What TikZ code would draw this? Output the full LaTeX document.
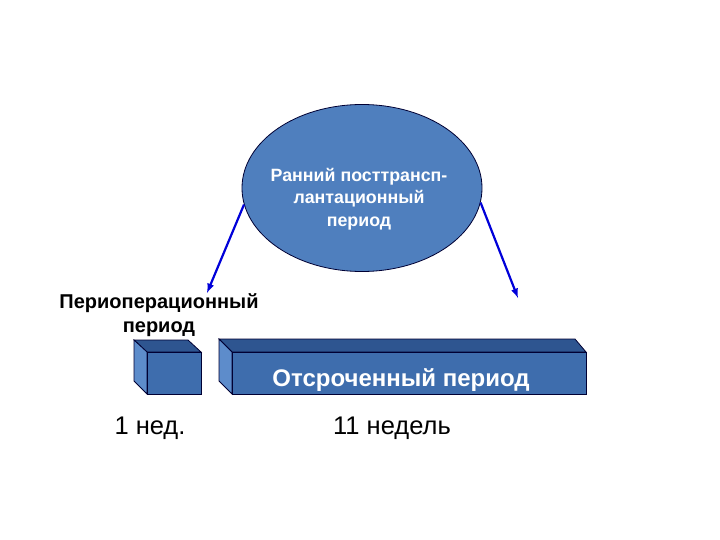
\documentclass[tikz,border=0pt]{standalone}
\usepackage{fontspec}
\setmainfont{Liberation Sans}
\usetikzlibrary{shapes.geometric}
\begin{document}
\begin{tikzpicture}[x=1pt,y=-1pt,
 front/.style={fill=frontc,draw=black!80!blue,line width=0.8pt},
 topf/.style={fill=topc,draw=black!80!blue,line width=0.8pt},
 sidef/.style={fill=sidec,draw=black!80!blue,line width=0.8pt},
 arr/.style={draw=blue!85!black,line width=2.2pt,-latex}]
\definecolor{frontc}{HTML}{3E6DAD}
\definecolor{topc}{HTML}{2E5590}
\definecolor{sidec}{HTML}{5D8CCB}
\definecolor{ellc}{HTML}{4F7FBE}
\useasboundingbox (0,0) rectangle (720,540);
\node[ellipse,minimum width=240,minimum height=167,fill=ellc,draw=black!80!blue,line width=0.8pt,inner sep=0] (e) at (362,188) {};
\node[text=white,font=\bfseries\fontsize{17.8}{22.5}\selectfont,align=center] (et) at (359,199) {Ранний посттрансп-\\лантационный\\период};
\coordinate (a1) at (207,293);
\coordinate (a2) at (518,298);
\draw[arr] (e.188) -- (a1);
\draw[arr] (e.-7) -- (a2);
% small cube
\draw[topf] (134,340) -- (188,340) -- (201,352) -- (147,352) -- cycle;
\draw[sidef] (134,340) -- (147,352) -- (147,394) -- (134,381) -- cycle;
\node[front,minimum width=54,minimum height=42,inner sep=0] (c1) at (174,373) {};
% big box
\draw[topf] (219,339) -- (575,339) -- (586,352) -- (232,352) -- cycle;
\draw[sidef] (219,339) -- (232,352) -- (232,394) -- (219,381) -- cycle;
\node[front,minimum width=354,minimum height=42,inner sep=0] (c2) at (409,373) {};
\node[text=white,font=\bfseries\fontsize{24}{26}\selectfont] (t2) at (401,380) {Отсроченный период};
\node[font=\bfseries\fontsize{20}{24}\selectfont,align=center] (t1) at (159,315) {Периоперационный\\период};
\node[font=\fontsize{25.5}{28}\selectfont] (w1) at (150,428) {1 нед.};
\node[font=\fontsize{25.5}{28}\selectfont] (w2) at (392,428) {11 недель};
\end{tikzpicture}
\end{document}
